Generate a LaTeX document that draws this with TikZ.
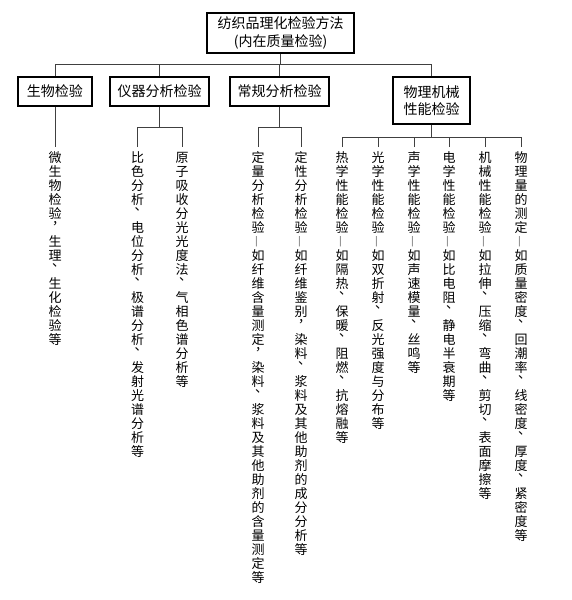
\documentclass[tikz,border=0pt]{standalone}
\usepackage{fontspec}
\setmainfont{Noto Sans CJK SC}
\usepackage{graphicx}
\newcommand\vcolEnd{}
\newcommand\vcdash{\vbox to 14pt{\vss\hbox to 14pt{\hss\textcolor{black!55}{\rotatebox{90}{—}}\hss}\vss}}
\newcommand\vpunct[1]{\vbox to 14pt{\hbox to 14pt{\hss\rule{0pt}{12pt}\kern0.28em\raisebox{0.62em}{#1}\kern-0.28em\hss}\vss}}
\newcommand\vplain[1]{\vbox to 14pt{\hbox to 14pt{\hss\rule{0pt}{12pt}#1\hss}\vss}}
\newcommand\vcell[1]{\ifx#1—\vcdash\else\ifx#1、\vpunct{#1}\else\ifx#1，\vpunct{#1}\else\vplain{#1}\fi\fi\fi}
\def\vcolA#1{\ifx#1\vcolEnd\else\vcell{#1}\expandafter\vcolA\fi}
\newcommand\vcol[1]{\vbox{\offinterlineskip\vcolA#1\vcolEnd}}
\tikzset{
  box/.style={draw, line width=1.1pt, inner sep=0pt, align=center, font=\fontsize{14}{17.5}\selectfont},
  vtext/.style={anchor=north, inner xsep=0pt, inner ysep=3pt, font=\fontsize{13}{14}\selectfont},
  conn/.style={draw=black!75, line width=0.6pt}
}
\begin{document}
\begin{tikzpicture}[x=1pt,y=-1pt]
\path[fill=white, use as bounding box] (0,0) rectangle (571,600);
% boxes
\node[box, minimum width=147pt, minimum height=40pt] (root) at (280.5,33) {纺织品理化检验方法\\(内在质量检验)};
\node[box, minimum width=74pt, minimum height=29pt] (bio) at (55,91.5) {生物检验};
\node[box, minimum width=99pt, minimum height=29pt] (yq) at (159.5,91.5) {仪器分析检验};
\node[box, minimum width=99pt, minimum height=29pt] (cg) at (279.5,91.5) {常规分析检验};
\node[box, minimum width=77pt, minimum height=47pt] (wl) at (431.5,100.5) {物理机械\\性能检验};
% vertical texts
\node[vtext] (t1) at (55,147) {\vcol{微生物检验，生理、生化检验等}};
\node[vtext] (y1) at (137.5,147) {\vcol{比色分析、电位分析、极谱分析、发射光谱分析等}};
\node[vtext] (y2) at (182,147) {\vcol{原子吸收分光光度法、气相色谱分析等}};
\node[vtext] (c1) at (258,147) {\vcol{定量分析检验—如纤维含量测定，染料、浆料及其他助剂的含量测定等}};
\node[vtext] (c2) at (301,147) {\vcol{定性分析检验—如纤维鉴别，染料、浆料及其他助剂的成分分析等}};
\node[vtext] (w1) at (342,147) {\vcol{热学性能检验—如隔热、保暖、阻燃、抗熔融等}};
\node[vtext] (w2) at (378,147) {\vcol{光学性能检验—如双折射、反光强度与分布等}};
\node[vtext] (w3) at (414,147) {\vcol{声学性能检验—如声速模量、丝鸣等}};
\node[vtext] (w4) at (449,147) {\vcol{电学性能检验—如比电阻、静电半衰期等}};
\node[vtext] (w5) at (485,147) {\vcol{机械性能检验—如拉伸、压缩、弯曲、剪切、表面摩擦等}};
\node[vtext] (w6) at (521,147) {\vcol{物理量的测定—如质量密度、回潮率、线密度、厚度、紧密度等}};
% connectors
\coordinate (bus) at (0,64);
\coordinate (yqb) at (0,127);
\coordinate (cgb) at (0,127);
\coordinate (wlb) at (0,137);
\draw[conn] (root.south) -- (root.south |- bus);
\draw[conn] (bio.north) -- (bio.north |- bus) -- (wl.north |- bus) -- (wl.north);
\draw[conn] (yq.north) -- (yq.north |- bus);
\draw[conn] (cg.north) -- (cg.north |- bus);
\draw[conn] (bio.south) -- (bio.south |- t1.north);
\draw[conn] (yq.south) -- (yq.south |- yqb);
\draw[conn] (y1.north) -- (y1.north |- yqb) -| (y2.north);
\draw[conn] (cg.south) -- (cg.south |- cgb);
\draw[conn] (c1.north) -- (c1.north |- cgb) -| (c2.north);
\draw[conn] (wl.south) -- (wl.south |- wlb);
\draw[conn] (w1.north) -- (w1.north |- wlb) -| (w6.north);
\draw[conn] (w2.north) -- (w2.north |- wlb);
\draw[conn] (w3.north) -- (w3.north |- wlb);
\draw[conn] (w4.north) -- (w4.north |- wlb);
\draw[conn] (w5.north) -- (w5.north |- wlb);
\end{tikzpicture}
\end{document}
